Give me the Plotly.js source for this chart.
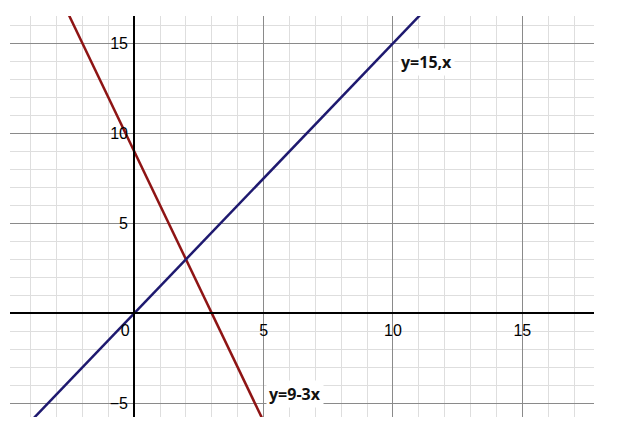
<!DOCTYPE html>
<html>
<head>
<meta charset="utf-8">
<script src="https://cdn.plot.ly/plotly-3.0.1.min.js"></script>
<style>
  html, body { margin: 0; padding: 0; background: #fff; }
  #chart { width: 624px; height: 422px; }
</style>
</head>
<body>
<div id="chart"></div>
<script>
"use strict";

// line endpoints (plot clips them)
const redX = [-3, 6];
const redY = [18, -9];
const blueX = [-4, 12];
const blueY = [-6, 18];

const xTicks = [0, 5, 10, 15];
// origin label sits left of the y axis, padded with nbsp
const xTickText = ['0\u00a0\u00a0\u00a0\u00a0', '5', '10', '15'];
const yTicks = [-5, 5, 10, 15];

const labels = [
  { text: 'y=15,x', x: 11.3, y: 13.95 },
  { text: 'y=9-3x', x: 6.2, y: -4.5 }
];

const xRange = [-4.8, 17.77];
const yRange = [-5.76, 16.52];

let traces = [
  {
    x: redX, y: redY,
    type: 'scatter', mode: 'lines',
    line: { color: '#8e1414', width: 2.5 },
    hoverinfo: 'skip'
  },
  {
    x: blueX, y: blueY,
    type: 'scatter', mode: 'lines',
    line: { color: '#1e196f', width: 2.5 },
    hoverinfo: 'skip'
  }
];

function axis(range, ticks, pos) {
  return {
    range: range,
    anchor: 'free',
    position: pos,
    tickvals: ticks,
    ticks: '',
    showline: true,
    linecolor: '#000',
    linewidth: 2,
    zeroline: false,
    showgrid: true,
    gridcolor: '#8a8a8a',
    gridwidth: 1,
    dtick: 5,
    tickfont: { family: 'Liberation Sans, Arial, sans-serif', size: 16, color: '#000' },
    minor: {
      dtick: 1,
      showgrid: true,
      gridcolor: '#dedede',
      gridwidth: 1
    },
    fixedrange: true
  };
}

let xPos = (0 - yRange[0]) / (yRange[1] - yRange[0]);
let yPos = (0 - xRange[0]) / (xRange[1] - xRange[0]);

let layout = {
  width: 624,
  height: 422,
  margin: { l: 10, r: 30, t: 16, b: 5 },
  paper_bgcolor: '#fff',
  plot_bgcolor: '#fff',
  showlegend: false,
  xaxis: axis(xRange, xTicks, xPos),
  yaxis: axis(yRange, yTicks, yPos),
  annotations: labels.map(l => ({
    x: l.x, y: l.y, xref: 'x', yref: 'y',
    text: '<b>' + l.text + '</b>',
    showarrow: false,
    bgcolor: '#fff',
    borderpad: 2,
    font: { family: 'Open Sans, sans-serif', size: 16, color: '#111' }
  }))
};

layout.xaxis.ticktext = xTickText;
layout.xaxis.ticklabelstandoff = 2;
layout.yaxis.ticklabelstandoff = 2;

Plotly.newPlot('chart', traces, layout, { staticPlot: true, displayModeBar: false });
</script>
</body>
</html>
